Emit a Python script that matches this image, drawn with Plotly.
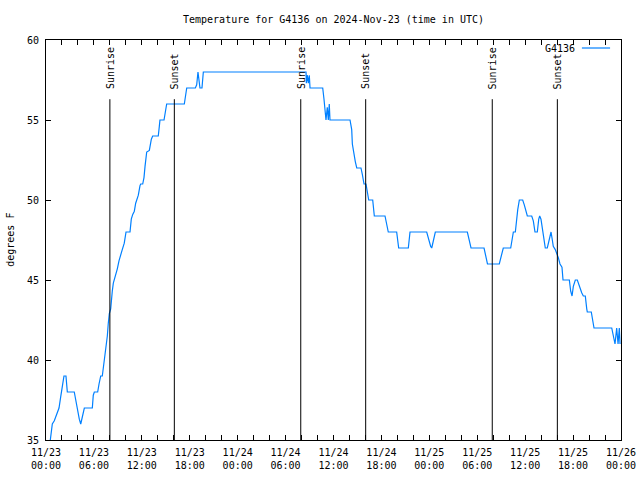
import plotly.graph_objects as go
import pandas as pd

start = pd.Timestamp("2024-11-23 00:00")

# hours since 2024-11-23 00:00 UTC
hours = [0.54, 0.79, 1.04, 1.63, 1.84, 2.04, 2.25, 2.50, 2.67, 3.54, 3.76, 3.92, 4.17, 4.35, 4.60, 4.80,
         5.80, 5.92, 6.05, 6.47, 6.64, 6.85, 7.05, 7.26, 7.43, 7.60, 7.68, 7.80, 7.93, 8.10, 8.18, 8.30,
         8.43, 8.55, 8.77, 8.93, 9.14, 9.35, 9.55, 9.80, 9.98, 10.02, 10.52, 10.68, 10.86, 11.06, 11.23,
         11.36, 11.56, 11.77, 11.86, 12.11, 12.27, 12.40, 12.52, 12.61, 12.94, 13.19, 13.36, 14.06, 14.19,
         14.27, 14.78, 14.94, 15.11, 17.32, 17.53, 17.62, 18.70, 18.87, 19.03, 19.20, 19.28, 19.53, 19.70,
         32.43, 32.56, 32.60, 32.72, 32.85, 32.97, 33.06, 34.65, 34.81, 34.94, 35.06, 35.22, 35.35, 35.47,
         35.56, 38.07, 38.28, 38.36, 38.57, 38.73, 38.91, 39.44, 39.61, 39.82, 40.07, 40.23, 40.41, 40.91,
         40.98, 41.11, 42.45, 42.57, 42.74, 42.86, 43.91, 44.04, 44.16, 45.37, 45.58, 47.67, 47.87, 48.17,
         48.30, 48.42, 48.75, 52.76, 52.97, 53.22, 54.85, 55.06, 55.28, 56.76, 56.94, 57.26, 58.19, 58.35,
         58.52, 58.77, 58.94, 59.07, 59.27, 59.69, 59.89, 60.11, 60.27, 60.82, 61.02, 61.23, 61.52, 61.70,
         61.82, 61.98, 62.15, 62.32, 62.52, 62.77, 62.99, 63.24, 63.40, 63.52, 63.77, 63.95, 64.15, 64.36,
         64.61, 64.74, 65.53, 65.70, 65.87, 66.03, 66.28, 66.53, 66.78, 67.08, 67.28, 67.53, 67.71, 67.78,
         68.28, 68.46, 68.62, 70.84, 71.04, 71.25, 71.46, 71.63, 71.79, 71.88]
temps = [35, 36, 36.2, 37, 37.7, 38.5, 39, 39, 38, 38, 37.3, 37, 36.3, 36, 36.5, 37,
         37, 37.8, 38, 38, 38.5, 39, 39, 39.8, 40.6, 41.3, 41.5, 42.3, 42.9, 43.2, 43.8, 44.3,
         44.8, 45, 45.3, 45.7, 46.2, 46.5, 46.9, 47.3, 47.9, 48, 48, 48.8, 49.1, 49.3, 49.8,
         50, 50.3, 50.9, 51, 51, 51.4, 52.1, 52.7, 53, 53.1, 53.8, 54, 54, 54.6,
         55, 55, 55.6, 56, 56, 56.8, 57, 57, 57.2, 58, 57.5, 57, 57, 58,
         58, 58, 57.3, 57.8, 57.3, 57.8, 57, 57, 56.3, 55.7, 55, 55.8, 55, 56,
         55, 55, 54.4, 53.5, 52.8, 52.4, 52, 52, 51.6, 51, 51, 50.6, 50, 50,
         49.6, 49, 49, 48.7, 48.3, 48, 48, 47.6, 47, 47, 48, 48, 47.6, 47.1,
         47, 47.3, 48, 48, 47.5, 47, 47, 46.4, 46, 46, 46.4, 47, 47, 47.5,
         48, 48, 48.9, 49.4, 50, 50, 49.7, 49.3, 49, 49, 48.7, 48, 48, 48.8,
         49, 48.8, 48.3, 47.7, 47, 47, 47.5, 48, 47.5, 47.1, 46.9, 46.7, 46.4, 46,
         45.8, 45, 45, 44.3, 44, 44.6, 45, 45, 44.6, 44.2, 44, 44, 43.2, 43,
         43, 42.3, 42, 42, 41.6, 41, 42, 41, 42, 41]

event_names = ["Sunrise", "Sunset", "Sunrise", "Sunset", "Sunrise", "Sunset"]
event_hours = [8.0, 16.07, 31.9, 40.03, 55.88, 64.03]

series_name = "G4136"
title_text = "Temperature for G4136 on 2024-Nov-23 (time in UTC)"
y_title = "degrees F"

times = start + pd.to_timedelta(hours, unit="h")
event_times = start + pd.to_timedelta(event_hours, unit="h")

FONT = "DejaVu Sans Mono"
BLUE = "#0080ff"

fig = go.Figure()
fig.add_trace(go.Scatter(x=times, y=temps, mode="lines", name=series_name,
                         line=dict(color=BLUE, width=1.2), showlegend=False))

for name, t in zip(event_names, event_times):
    fig.add_shape(type="line", xref="x", yref="y", x0=t, x1=t, y0=35, y1=56.3,
                  line=dict(color="black", width=1))
    fig.add_annotation(x=t, y=56.8, xref="x", yref="y", text=name, textangle=-90,
                       showarrow=False, xanchor="center", yanchor="bottom",
                       font=dict(family=FONT, size=10, color="black"))

# legend (gnuplot style: text then sample)
fig.add_annotation(x=0.9235, y=0.98, xref="paper", yref="paper", text=series_name,
                   showarrow=False, xanchor="right", yanchor="middle",
                   font=dict(family=FONT, size=10, color="black"))
fig.add_shape(type="line", xref="paper", yref="paper", x0=0.932, x1=0.981, y0=0.98, y1=0.98,
              line=dict(color=BLUE, width=1.2))

# y axis title (placed like gnuplot)
fig.add_annotation(x=-0.063, y=0.5, xref="paper", yref="paper", text=y_title, textangle=-90,
                   showarrow=False, xanchor="center", yanchor="middle",
                   font=dict(family=FONT, size=10, color="black"))

fig.update_layout(
    width=640, height=480,
    margin=dict(l=46, r=19, t=40, b=40, autoexpand=False),
    paper_bgcolor="white", plot_bgcolor="white",
    font=dict(family=FONT, size=10, color="black"),
    title=dict(text=title_text, x=(46 + 621) / 2 / 640, xanchor="center",
               y=1 - 19 / 480, yanchor="middle", yref="container",
               font=dict(family=FONT, size=10, color="black")),
)
fig.update_xaxes(
    range=[start, start + pd.Timedelta(hours=72)], automargin=False,
    tickmode="linear", tick0=start, dtick=6 * 3600 * 1000,
    tickformat="%m/%d<br>%H:%M", ticklabelstandoff=3,
    ticks="inside", ticklen=5, tickcolor="black", tickwidth=1,
    minor=dict(dtick=2 * 3600 * 1000, ticks="inside", ticklen=5, tickcolor="black", tickwidth=1, showgrid=False),
    showline=True, linecolor="black", linewidth=1, mirror="ticks",
    showgrid=False, zeroline=False,
    tickfont=dict(family=FONT, size=10, color="black"),
)
fig.update_yaxes(
    range=[35, 60], automargin=False, tickmode="linear", tick0=35, dtick=5,
    ticklabelstandoff=4,
    ticks="inside", ticklen=5, tickcolor="black", tickwidth=1,
    showline=True, linecolor="black", linewidth=1, mirror="ticks",
    showgrid=False, zeroline=False,
    tickfont=dict(family=FONT, size=10, color="black"),
)

fig.write_html("out.html", config={"displayModeBar": False},
               post_script="document.body.style.margin='0px';document.body.style.overflow='hidden';")
